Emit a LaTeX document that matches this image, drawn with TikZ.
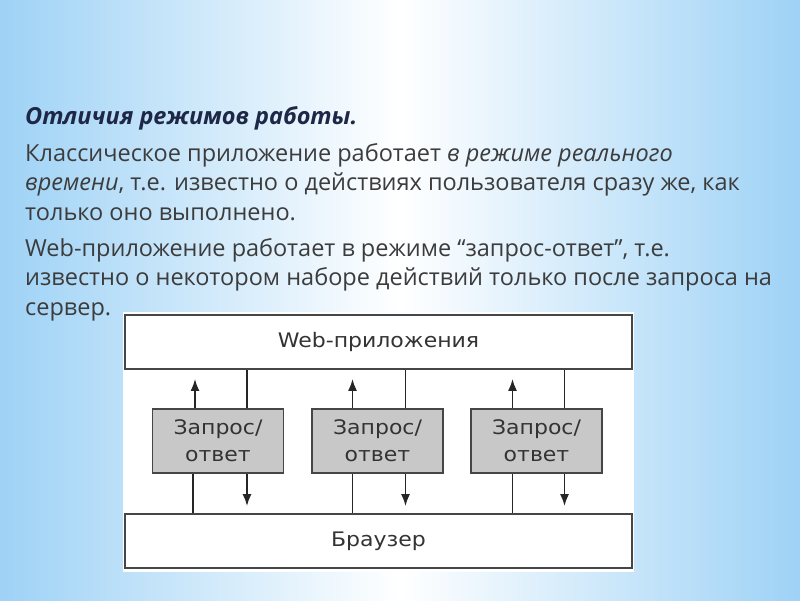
\documentclass[tikz,border=0pt]{standalone}
\usepackage{fontspec}
\setmainfont{Open Sans}
\newfontfamily\diagfont[FakeStretch=1.1]{DejaVu Sans}
\usepackage{xcolor}
\usetikzlibrary{arrows.meta}
\definecolor{skyedge}{RGB}{158,210,246}
\definecolor{bodytext}{RGB}{60,60,60}
\definecolor{titletext}{RGB}{30,40,70}
\definecolor{boxgray}{RGB}{200,200,200}
\definecolor{linegray}{RGB}{70,70,70}
\tikzset{
	plainbox/.style={rectangle, draw=linegray, fill=white, line width=1.8pt, minimum width=507pt, minimum height=54pt, font=\diagfont\fontsize{20}{24}\selectfont, text=black!80},
	graybox/.style={rectangle, draw=linegray, fill=boxgray, line width=1.8pt, minimum width=131pt, minimum height=64pt, align=center, font=\diagfont\fontsize{20}{27}\selectfont, text=black!80},
	flow/.style={draw=black!85, line width=1.8pt},
	flowarrow/.style={flow, -{Latex[length=12pt,width=9pt]}}
}

\begin{document}
\begin{tikzpicture}[x=1pt, y=-1pt]
		\useasboundingbox (0,0) rectangle (800,600);
		\shade[left color=skyedge, right color=skyedge, middle color=white] (0,0) rectangle (800,600);
		%Text (base anchor is the last line)
		\node[anchor=base west, inner sep=0pt, text=titletext, font=\fontsize{23.5}{29}\selectfont\bfseries\itshape] at (25,124) (title) {Отличия режимов работы.};
		\node[anchor=base west, inner sep=0pt, align=left, text=bodytext, font=\fontsize{23.5}{29.5}\selectfont] at (25,220) (classic) {Классическое приложение работает \textit{в режиме реального}\\ \textit{времени}, т.е. известно о действиях пользователя сразу же, как\\ только оно выполнено.};
		\node[anchor=base west, inner sep=0pt, align=left, text=bodytext, font=\fontsize{23.5}{29.5}\selectfont] at (25,315) (webmode) {Web-приложение работает в режиме “запрос-ответ”, т.е.\\ известно о некотором наборе действий только после запроса на\\ сервер.};
		%Diagram
		\fill[white] (123,312) rectangle (634,572);
		\node[plainbox] at (378.5,342) (web)     {Web-приложения};
		\node[plainbox] at (378.5,541) (browser) {Браузер};
		\node[graybox] at (218,441) (rr1) {Запрос/\\ответ};
		\node[graybox] at (377.5,441) (rr2) {Запрос/\\ответ};
		\node[graybox] at (536.5,441) (rr3) {Запрос/\\ответ};
		%Lines
		\draw[flowarrow, shorten >=9pt] ([xshift=-23pt]rr1.north) -- ([xshift=-23pt]rr1.north |- web.south);
		\draw[flow] ([xshift=29pt]web.south -| rr1.north) -- ([xshift=29pt]rr1.north);
		\draw[flowarrow, shorten >=7pt] ([xshift=29pt]rr1.south) -- ([xshift=29pt]rr1.south |- browser.north);
		\draw[flow] ([xshift=-25pt]rr1.south) -- ([xshift=-25pt]rr1.south |- browser.north);
		
		\draw[flowarrow, shorten >=9pt] ([xshift=-25pt]rr2.north) -- ([xshift=-25pt]rr2.north |- web.south);
		\draw[flow] ([xshift=28pt]web.south -| rr2.north) -- ([xshift=28pt]rr2.north);
		\draw[flowarrow, shorten >=7pt] ([xshift=28pt]rr2.south) -- ([xshift=28pt]rr2.south |- browser.north);
		\draw[flow] ([xshift=-25pt]rr2.south) -- ([xshift=-25pt]rr2.south |- browser.north);
		
		\draw[flowarrow, shorten >=9pt] ([xshift=-24pt]rr3.north) -- ([xshift=-24pt]rr3.north |- web.south);
		\draw[flow] ([xshift=28pt]web.south -| rr3.north) -- ([xshift=28pt]rr3.north);
		\draw[flowarrow, shorten >=7pt] ([xshift=28pt]rr3.south) -- ([xshift=28pt]rr3.south |- browser.north);
		\draw[flow] ([xshift=-24pt]rr3.south) -- ([xshift=-24pt]rr3.south |- browser.north);
	\end{tikzpicture}
\end{document}
